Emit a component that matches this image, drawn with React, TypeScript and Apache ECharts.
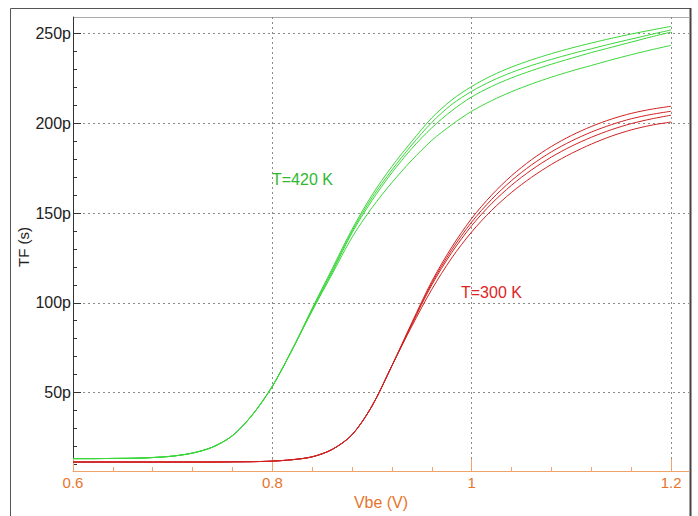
import React, { useEffect, useRef } from "react";
import * as echarts from "echarts";

// Vbe (V) sample points
const vbe = [0.6, 0.62, 0.64, 0.66, 0.68, 0.7, 0.72, 0.74, 0.76, 0.78, 0.8, 0.82, 0.84, 0.86, 0.88, 0.9, 0.92, 0.94, 0.96, 0.98, 1.0, 1.02, 1.04, 1.06, 1.08, 1.1, 1.12, 1.14, 1.16, 1.18, 1.2];

// T = 420 K curves (TF in ps)
const hot1 = [13.2, 13.2, 13.3, 13.4, 13.8, 14.6, 16.3, 19.6, 26, 37.6, 53.5, 74, 97, 119, 141, 160, 176, 190, 203, 213, 220.5, 226.5, 231.3, 235.3, 238.8, 241.9, 244.7, 247.3, 249.7, 251.9, 254];
const hot2 = [13.2, 13.2, 13.3, 13.4, 13.8, 14.6, 16.3, 19.6, 26, 37.6, 53.5, 74, 96.5, 118, 140, 158.5, 174, 188, 200.5, 210.5, 217.8, 223.6, 228.3, 232.2, 235.6, 238.7, 241.5, 244.3, 246.9, 249.5, 252];
const hot3 = [13.2, 13.2, 13.3, 13.4, 13.8, 14.6, 16.3, 19.6, 26, 37.6, 53.5, 74, 96, 117, 139, 157, 172.5, 186, 197.5, 207, 214.7, 220.5, 225.3, 229.3, 232.9, 236.2, 239.4, 242.3, 245.2, 248.1, 250.8];
const hot4 = [13.2, 13.2, 13.3, 13.4, 13.8, 14.6, 16.3, 19.6, 26, 37.6, 53.5, 74, 95.5, 116, 136.5, 153, 167, 179.5, 190.5, 199.2, 206.7, 212.6, 217.6, 221.9, 225.7, 229.1, 232.2, 235.3, 238.2, 240.9, 243.4];

// T = 300 K curves (TF in ps)
const cold1 = [11.3, 11.3, 11.3, 11.3, 11.3, 11.3, 11.3, 11.3, 11.4, 11.5, 11.8, 12.6, 14.2, 18.3, 26.5, 42.5, 65, 89, 112, 131, 147, 160, 170.8, 179.7, 187.1, 193.2, 198.2, 202.3, 205.5, 207.8, 209.5];
const cold2 = [11.3, 11.3, 11.3, 11.3, 11.3, 11.3, 11.3, 11.3, 11.4, 11.5, 11.8, 12.6, 14.2, 18.3, 26.5, 42.5, 65, 88.5, 111, 129.5, 145, 157.6, 168.1, 176.8, 184.1, 190.1, 195.1, 199.2, 202.5, 204.9, 206.7];
const cold3 = [11.3, 11.3, 11.3, 11.3, 11.3, 11.3, 11.3, 11.3, 11.4, 11.5, 11.8, 12.6, 14.2, 18.3, 26.5, 42.5, 65, 88, 110, 128, 143, 155.3, 165.5, 174, 181.2, 187.2, 192.2, 196.4, 199.8, 202.4, 204.5];
const cold4 = [11.3, 11.3, 11.3, 11.3, 11.3, 11.3, 11.3, 11.3, 11.4, 11.5, 11.8, 12.6, 14.2, 18.3, 26.5, 42.5, 65, 87, 107.5, 125, 139.5, 151.5, 161.5, 169.9, 177.1, 183.2, 188.4, 192.8, 196.3, 198.9, 200.7];

const xMajor = [0.6, 0.8, 1.0, 1.2];
const xMinor = [0.64, 0.68, 0.72, 0.76, 0.84, 0.88, 0.92, 0.96, 1.04, 1.08, 1.12, 1.16];
const yMajor = [50, 100, 150, 200, 250];
const yMinor = [10, 20, 30, 40, 60, 70, 80, 90, 110, 120, 130, 140, 160, 170, 180, 190, 210, 220, 230, 240];

const FONT = "'Liberation Sans', Arial, Helvetica, sans-serif";
const GREEN = "#3ad63a";
const RED = "#d02222";
const ORANGE = "#e8742a";

export default function App() {
  const ref = useRef<HTMLDivElement>(null);
  useEffect(() => {
    if (!ref.current) return;
    const chart = echarts.init(ref.current, undefined, { renderer: "svg" });
    const mk = (ys: number[], color: string, name: string) => ({
      type: "line",
      name,
      data: vbe.map((v, i) => [v, ys[i]]),
      showSymbol: false,
      smooth: 0.3,
      lineStyle: { width: 1, color },
      itemStyle: { color },
      xAxisIndex: 0,
      yAxisIndex: 0,
      silent: true,
    });
    const grid = "#8a8a8a";
    chart.setOption({
      animation: false,
      backgroundColor: "#ffffff",
      textStyle: { fontFamily: FONT },
      grid: { left: 73, top: 17, right: 9, bottom: 45, containLabel: false },
      xAxis: [
        {
          type: "value",
          min: 0.6,
          max: 1.218,
          position: "bottom",
          axisLine: { show: true, lineStyle: { color: "#f0a46c", width: 1 } },
          axisTick: { show: true, inside: true, length: 12, customValues: xMajor, lineStyle: { color: "#f0a46c" } },
          axisLabel: {
            customValues: xMajor,
            color: ORANGE,
            fontSize: 15,
            fontFamily: FONT,
            margin: 4,
            formatter: (v: number) => String(Math.round(v * 10) / 10),
          },
          splitLine: { show: true, lineStyle: { type: [2, 3], color: grid, width: 1 } },
        },
        {
          type: "value",
          min: 0.6,
          max: 1.218,
          position: "bottom",
          axisLine: { show: false },
          axisTick: { show: true, inside: true, length: 4, customValues: xMinor, lineStyle: { color: "#f0a46c" } },
          axisLabel: { show: false },
          splitLine: { show: false },
        },
      ],
      yAxis: [
        {
          type: "value",
          min: 6.3,
          max: 259.2,
          position: "left",
          axisLine: { show: true, lineStyle: { color: "#333", width: 1 } },
          axisTick: { show: true, inside: true, length: 8, customValues: yMajor, lineStyle: { color: "#333" } },
          axisLabel: {
            customValues: yMajor,
            color: "#222",
            fontSize: 16,
            fontFamily: FONT,
            margin: 2,
            formatter: (v: number) => `${v}p`,
          },
          splitLine: { show: true, lineStyle: { type: [2, 3], color: grid, width: 1 } },
        },
        {
          type: "value",
          min: 6.3,
          max: 259.2,
          position: "left",
          offset: 0,
          axisLine: { show: false },
          axisTick: { show: true, inside: true, length: 4, customValues: yMinor, lineStyle: { color: "#333" } },
          axisLabel: { show: false },
          splitLine: { show: false },
        },
      ],
      series: [
        mk(hot1, GREEN, "420K-1"),
        mk(hot2, GREEN, "420K-2"),
        mk(hot3, GREEN, "420K-3"),
        mk(hot4, GREEN, "420K-4"),
        mk(cold1, RED, "300K-1"),
        mk(cold2, RED, "300K-2"),
        mk(cold3, RED, "300K-3"),
        mk(cold4, RED, "300K-4"),
      ],
      graphic: [
        { type: "rect", silent: true, shape: { x: 10.5, y: 8.5, width: 680, height: 530 }, style: { fill: "none", stroke: "#555", lineWidth: 1 } },
        { type: "line", silent: true, shape: { x1: 690.5, y1: 8, x2: 690.5, y2: 516 }, style: { stroke: "#444", lineWidth: 2 } },
        { type: "line", silent: true, shape: { x1: 73, y1: 17.5, x2: 690, y2: 17.5 }, style: { stroke: "#aaa", lineWidth: 1 } },
        { type: "text", silent: true, x: 272, y: 179.5, style: { text: "T=420 K", fill: "#2fb82f", font: `16px ${FONT}`, verticalAlign: "middle", align: "left" } },
        { type: "text", silent: true, x: 461, y: 292, style: { text: "T=300 K", fill: "#e02424", font: `16px ${FONT}`, verticalAlign: "middle", align: "left" } },
        { type: "text", silent: true, x: 381, y: 502, style: { text: "Vbe (V)", fill: ORANGE, font: `16px ${FONT}`, verticalAlign: "middle", align: "center" } },
        { type: "text", silent: true, x: 23, y: 247, rotation: Math.PI / 2, style: { text: "TF (s)", fill: "#222", font: `15px ${FONT}`, verticalAlign: "middle", align: "center" } },
      ],
    });
    return () => chart.dispose();
  }, []);
  return (
    <div
      ref={ref}
      style={{ position: "absolute", left: 0, top: 0, width: 698, height: 516, background: "#fff" }}
    />
  );
}
